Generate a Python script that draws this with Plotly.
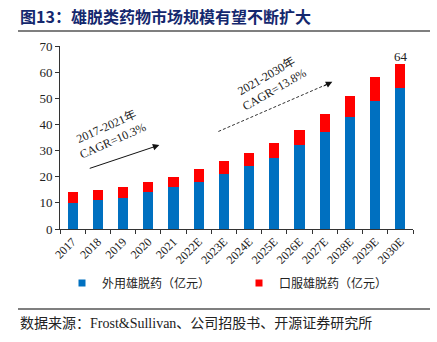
import plotly.graph_objects as go

years = ["2017", "2018", "2019", "2020", "2021", "2022E", "2023E", "2024E",
         "2025E", "2026E", "2027E", "2028E", "2029E", "2030E"]
topical = [10, 11, 12, 14, 16, 18, 21, 24, 27, 32, 37, 43, 49, 54]
oral = [4, 4, 4, 4, 4, 5, 5, 5, 6, 6, 7, 8, 9, 9]
topical_name = "外用雄脱药（亿元）"
oral_name = "口服雄脱药（亿元）"
y_ticks = [0, 10, 20, 30, 40, 50, 60, 70]
blue = "#0070C0"
red = "#FF0000"

serif = "Liberation Serif, Times New Roman, serif"
cjk = "Noto Sans CJK SC"
mixed = "Liberation Serif, Noto Sans CJK SC"

W, H = 437, 342
L, R, T, B = 60, 24, 46, 113
pw, ph = W - L - R, H - T - B


def px_x(p):
    return (p - L) / pw


def px_y(p):
    return (H - B - p) / ph


fig = go.Figure()
fig.add_trace(go.Bar(x=years, y=topical, name=topical_name, marker_color=blue,
                     marker_line_width=0, width=0.4, showlegend=False))
fig.add_trace(go.Bar(x=years, y=oral, name=oral_name, marker_color=red,
                     marker_line_width=0, width=0.4, showlegend=False))
# legend entries with small square symbols
fig.add_trace(go.Scatter(x=[None], y=[None], mode="markers", name=topical_name,
                         marker=dict(symbol="square", size=7, color=blue), legend="legend"))
fig.add_trace(go.Scatter(x=[None], y=[None], mode="markers", name=oral_name,
                         marker=dict(symbol="square", size=7, color=red), legend="legend2"))

totals = [a + b for a, b in zip(topical, oral)]
label_idx = [(0, 14), (4, 20), (13, 64)]
shifts = {0: 14, 4: 20, 13: 8}
annotations = []
for i, lab in label_idx:
    annotations.append(dict(x=years[i], y=totals[i], xref="x", yref="y", text=str(lab),
                            showarrow=False, yshift=shifts[i], xshift=1,
                            font=dict(family=serif, size=13, color="#222")))

# CAGR annotations
annotations.append(dict(x=1.45, y=36.5, xref="x", yref="y",
                        text="2017-2021年<br>CAGR=10.3%", showarrow=False, textangle=-24,
                        font=dict(family=mixed, size=12, color="#222")))
annotations.append(dict(x=3.44, y=32.1, xref="x", yref="y", ax=0.62, ay=23,
                        axref="x", ayref="y", text="", showarrow=True, arrowhead=2,
                        arrowsize=1.3, arrowwidth=1, arrowcolor="#111"))
annotations.append(dict(x=7.85, y=55.8, xref="x", yref="y",
                        text="2021-2030年<br>CAGR=13.8%", showarrow=False, textangle=-30,
                        font=dict(family=mixed, size=12, color="#222")))
annotations.append(dict(x=10.3, y=56.3, xref="x", yref="y", ax=9.9, ay=54.4,
                        axref="x", ayref="y", text="", showarrow=True, arrowhead=2,
                        arrowsize=1.3, arrowwidth=1, arrowcolor="#111"))

# title and source
annotations.append(dict(x=px_x(18), y=px_y(16), xref="paper", yref="paper",
                        text="<b>图13：雄脱类药物市场规模有望不断扩大</b>",
                        showarrow=False, xanchor="left", yanchor="middle",
                        font=dict(family=cjk, size=16, color="#14286E")))
annotations.append(dict(x=px_x(18), y=px_y(323), xref="paper", yref="paper",
                        text="数据来源：Frost&Sullivan、公司招股书、开源证券研究所",
                        showarrow=False, xanchor="left", yanchor="middle",
                        font=dict(family=mixed, size=14, color="#222")))

shapes = [
    dict(type="line", xref="paper", yref="paper", x0=px_x(18), x1=px_x(430),
         y0=px_y(31), y1=px_y(31), line=dict(color="#555", width=1.5)),
    dict(type="line", xref="paper", yref="paper", x0=px_x(18), x1=px_x(430),
         y0=px_y(309), y1=px_y(309), line=dict(color="#555", width=1.5)),
    dict(type="line", xref="x", yref="y", x0=5.78, y0=37.3, x1=10.1, y1=55.4,
         line=dict(color="#333", width=1, dash="3px,2px")),
]

legend_common = dict(orientation="h", xanchor="left", yanchor="middle",
                     font=dict(family=cjk, size=12, color="#222"), itemwidth=30,
                     bgcolor="rgba(0,0,0,0)", borderwidth=0)

fig.update_layout(
    width=W, height=H, barmode="stack", bargap=0.6,
    margin=dict(l=L, r=R, t=T, b=B),
    paper_bgcolor="white", plot_bgcolor="white",
    annotations=annotations, shapes=shapes,
    showlegend=True,
    legend=dict(x=px_x(62), y=px_y(283), **legend_common),
    legend2=dict(x=px_x(239), y=px_y(283), **legend_common),
    xaxis=dict(type="category", tickangle=-45, showline=True, linecolor="#333",
               ticks="outside", tickson="boundaries", ticklen=4, tickcolor="#333",
               tickfont=dict(family=serif, size=12, color="#222"), showgrid=False,
               range=[-0.5, 13.5]),
    yaxis=dict(range=[0, 70], tickvals=y_ticks, showline=True, linecolor="#333",
               ticks="outside", ticklen=4, tickcolor="#333", showgrid=False,
               zeroline=False,
               tickfont=dict(family=serif, size=13, color="#222")),
)

fig.write_html("out.html")
